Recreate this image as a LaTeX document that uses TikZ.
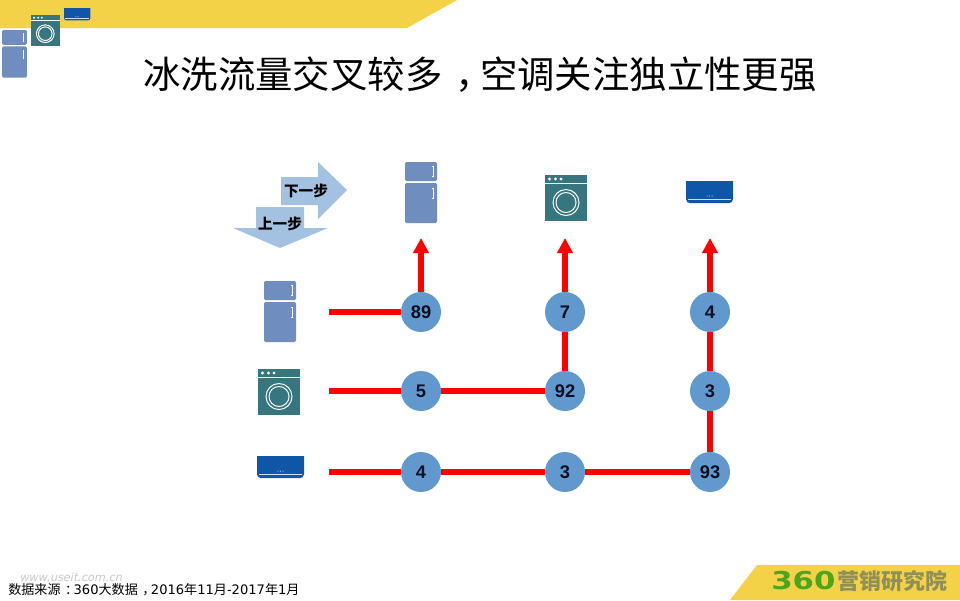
\documentclass[tikz,border=0pt]{standalone}
\usepackage{fontspec}
\setmainfont{Noto Sans CJK SC}
\newfontfamily\numfont{DejaVu Sans}
\newfontfamily\sharefont{Liberation Sans}
\newcommand{\midpunct}[1]{\hspace*{.35em}#1\hspace*{-.35em}}
\usetikzlibrary{arrows.meta}
\definecolor{bandyellow}{HTML}{F4D247}
\definecolor{stepblue}{HTML}{A3C2E2}
\definecolor{dotblue}{HTML}{6199CF}
\definecolor{fridgeblue}{HTML}{6F8DBE}
\definecolor{washerteal}{HTML}{36777F}
\definecolor{acblue}{HTML}{0F56A8}
\definecolor{logogreen}{HTML}{4BA51F}
\definecolor{logogrey}{HTML}{8F8F58}
\definecolor{sharetext}{HTML}{0A1020}
\tikzset{
  share/.style={circle,fill=dotblue,minimum size=40*0.025cm,inner sep=0pt,text=sharetext,font=\sharefont\bfseries\fontsize{13}{14}\selectfont},
  flow/.style={draw=red,line width=0.14cm},
  flowup/.style={flow,-{Triangle[length=0.375cm,width=0.375cm]}},
  steplabel/.style={font=\bfseries\fontsize{10.4}{12}\selectfont},
  fridge/.pic={
    \fill[fridgeblue,rounded corners=1pt] (0,0) rectangle (32,19);
    \fill[fridgeblue,rounded corners=1pt] (0,21) rectangle (32,61);
    \draw[white,line width=0.5pt] (27,4) -- (28,4) -- (28,14) -- (27,14);
    \draw[white,line width=0.5pt] (27,26) -- (28,26) -- (28,36) -- (27,36);
  },
  washer/.pic={
    \fill[washerteal] (0,0) rectangle (42,46);
    \draw[white,line width=0.6pt] (0,8) -- (42,8);
    \foreach \dotx in {4.5,10.5,16}
      \fill[white] (\dotx,4) circle (1.6);
    \draw[white,line width=0.7pt] (21,27.5) circle (13);
    \draw[white,line width=0.7pt] (21,27.5) circle (10);
  },
  aircon/.pic={
    \fill[acblue] (0,0) -- (47,0) -- (47,18) .. controls (47,21) and (45,22) .. (43,22) -- (4,22) .. controls (2,22) and (0,21) .. (0,18) -- cycle;
    \draw[white!80!acblue,line width=0.4pt] (2,18.5) -- (45,18.5);
    \foreach \dotx in {21,23.5,26}
      \fill[white] (\dotx,15) circle (0.5);
  },
}
\begin{document}
\begin{tikzpicture}[x=0.025cm,y=-0.025cm]
  \useasboundingbox (0,0) rectangle (960,600);
  \fill[bandyellow] (0,0) -- (457,0) -- (407,28) -- (0,28) -- cycle;
  \fill[bandyellow] (757,565) -- (960,565) -- (960,600) -- (730,600) -- cycle;

  \pic[scale=0.78] at (2,30) {fridge};
  \pic[scale=0.68] at (31,15) {washer};
  \pic[scale=0.56] at (64,8) {aircon};

  \node (title) at (480,75) {\fontsize{26.6}{30}\selectfont 冰洗流量交叉较多\midpunct{，}空调关注独立性更强};

  \fill[stepblue] (281,177) -- (318,177) -- (318,162) -- (347,190) -- (318,219) -- (318,205) -- (281,205) -- cycle;
  \fill[stepblue] (256,207) -- (304,207) -- (304,228) -- (328,228) -- (280,248) -- (233,228) -- (256,228) -- cycle;
  \node[steplabel] (nextstep) at (306,191) {下一步};
  \node[steplabel] (prevstep) at (280,224) {上一步};

  \pic at (405,162) {fridge};
  \pic at (545,175) {washer};
  \pic at (686,181) {aircon};
  \pic at (264,281) {fridge};
  \pic at (258,369) {washer};
  \pic at (257,456) {aircon};

  \coordinate (fridgerow) at (329,312);
  \coordinate (washerrow) at (329,391);
  \coordinate (acrow) at (329,472);
  \coordinate (fridgetop) at (421,238);
  \coordinate (washertop) at (565,238);
  \coordinate (actop) at (710,238);

  \node[share] (ff) at (421,312) {89};
  \node[share] (fw) at (565,312) {7};
  \node[share] (fa) at (710,312) {4};
  \node[share] (wf) at (421,391) {5};
  \node[share] (ww) at (565,391) {92};
  \node[share] (wa) at (710,391) {3};
  \node[share] (af) at (421,472) {4};
  \node[share] (aw) at (565,472) {3};
  \node[share] (aa) at (710,472) {93};

  \draw[flow] (fridgerow) -- (ff);
  \draw[flowup] (ff) -- (fridgetop);
  \draw[flow] (washerrow) -- (wf);
  \draw[flow] (wf) -- (ww);
  \draw[flow] (ww) -- (fw);
  \draw[flowup] (fw) -- (washertop);
  \draw[flow] (acrow) -- (af);
  \draw[flow] (af) -- (aw);
  \draw[flow] (aw) -- (aa);
  \draw[flow] (aa) -- (wa);
  \draw[flow] (wa) -- (fa);
  \draw[flowup] (fa) -- (actop);

  \node[anchor=west,inner sep=0pt,text=black!22] (mark) at (20,577) {\numfont\itshape\fontsize{8}{8}\selectfont www.useit.com.cn};
  \node[anchor=west,inner sep=0pt] (source) at (8,590) {\fontsize{9.3}{10}\selectfont 数据来源\midpunct{：}{\numfont 360}大数据\midpunct{，}{\numfont 2016}年{\numfont 11}月{\numfont -2017}年{\numfont 1}月};
  \node[anchor=west,inner sep=0pt,text=logogreen] (logonum) at (771,581) {\scalebox{1.25}[1]{\numfont\bfseries\fontsize{17.5}{18}\selectfont 360}};
  \node[anchor=west,inner sep=0pt,text=logogrey] (logotext) at (837,581) {\fontsize{15.6}{18}\selectfont\bfseries 营销研究院};
\end{tikzpicture}
\end{document}
